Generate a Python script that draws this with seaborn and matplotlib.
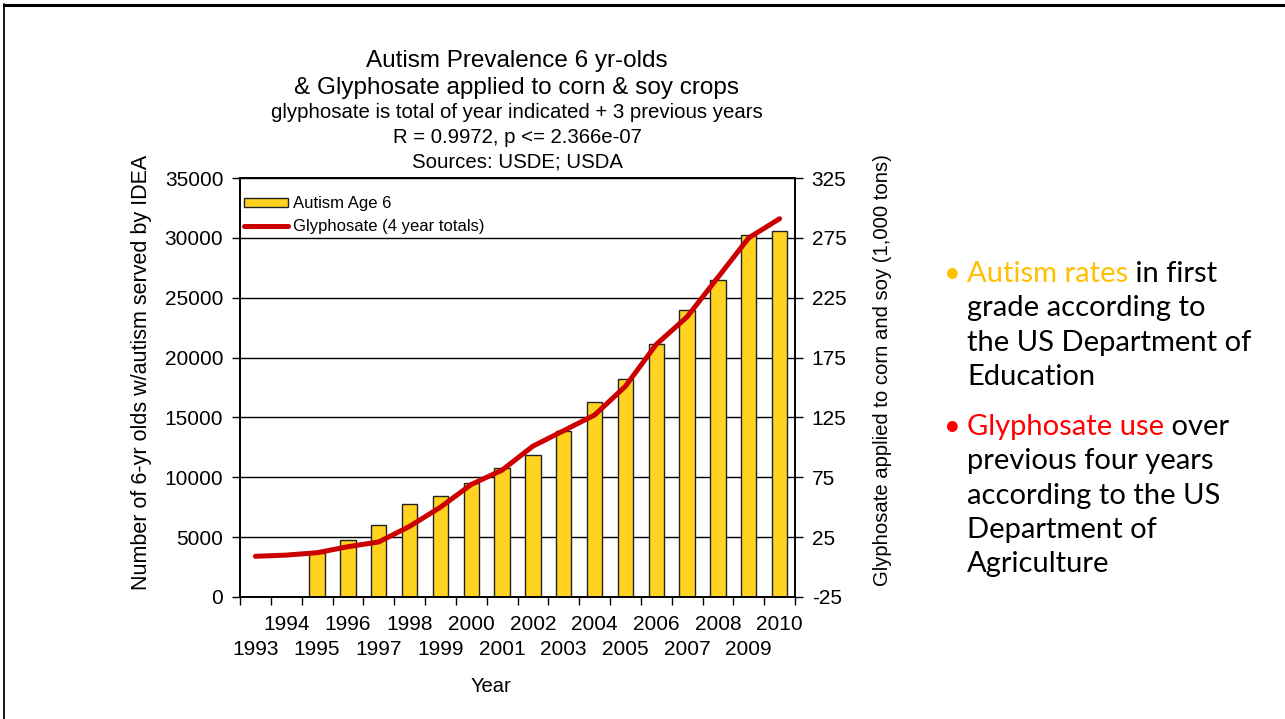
import numpy as np
import pandas as pd
import matplotlib
matplotlib.use("Agg")
import matplotlib.pyplot as plt
import seaborn as sns
from matplotlib.lines import Line2D
from matplotlib.patches import Patch

years = list(range(1993, 2011))
autism = [0, 0, 3650, 4750, 6000, 7750, 8400, 9500, 10800, 11900,
          13900, 16300, 18200, 21100, 24000, 26500, 30200, 30600]
glyphosate = [9, 10, 12, 17, 21, 34, 50, 69, 81, 101,
              114, 127, 151, 186, 209, 242, 275, 291]
left_ticks = list(range(0, 35001, 5000))
right_ticks = list(range(-25, 326, 50))

title_main = ["Autism Prevalence 6 yr-olds", "& Glyphosate applied to corn & soy crops"]
title_sub = ["glyphosate is total of year indicated + 3 previous years",
             "R = 0.9972, p <= 2.366e-07",
             "Sources: USDE; USDA"]

sns.set_theme(style="white")
plt.rcParams['font.family'] = ['Liberation Sans', 'DejaVu Sans']
plt.rcParams['text.color'] = 'black'
plt.rcParams['axes.unicode_minus'] = False

W, H = 1285, 719
fig = plt.figure(figsize=(W / 100, H / 100), dpi=100)
ax = fig.add_axes([240 / W, 1 - 597 / H, 555 / W, 419 / H])

df = pd.DataFrame({"year": [str(y) for y in years], "autism": autism, "glyph": glyphosate})

sns.barplot(data=df, x="year", y="autism", ax=ax, color="#FFD320", width=0.5,
            edgecolor="#222222", linewidth=1, saturation=1)
ax.set_axisbelow(True)
ax.yaxis.grid(True, color="black", lw=1)
ax.set_ylim(0, 35000)
ax.set_yticks(left_ticks)
ax.set_xlim(-0.5, len(years) - 0.5)
ax.set_xlabel("")
ax.set_ylabel("")
for s in ax.spines.values():
    s.set_color("black")
    s.set_linewidth(1.2)

pos = np.arange(len(years))
# ticks at category boundaries, even-year labels on the first row
ax.set_xticks(np.arange(-0.5, len(years), 1.0))
ax.set_xticklabels([])
ax.set_xticks(pos[::2] + 1, minor=True)
ax.set_xticklabels([str(y) for y in years[1::2]], minor=True)
ax.tick_params(axis="x", which="major", direction="out", length=6, width=1, color="black", bottom=True)
ax.tick_params(axis="x", which="minor", length=0, pad=13, labelsize=15, labelcolor="black")
ax.tick_params(axis="y", direction="out", length=6, width=1, color="black", left=True,
               labelsize=15, labelcolor="black", pad=6)

# odd-year labels on a second row
sec = ax.secondary_xaxis("bottom")
sec.set_xticks(pos[::2], [str(y) for y in years[::2]])
sec.tick_params(axis="x", length=0, pad=31, labelsize=15, labelcolor="black")
for s in sec.spines.values():
    s.set_visible(False)

ax2 = ax.twinx()
sns.lineplot(x=pos, y=glyphosate, ax=ax2, color="#CC0000", lw=3.6)
ax2.set_ylim(-25, 325)
ax2.set_yticks(right_ticks)
ax2.tick_params(axis="y", direction="out", length=6, width=1, color="black", right=True,
                labelsize=15, labelcolor="black", pad=6)
ax2.grid(False)
for s in ax2.spines.values():
    s.set_color("black")
    s.set_linewidth(1.2)

handles = [Patch(facecolor="#FFD320", edgecolor="#222222", lw=1),
           Line2D([], [], color="#CC0000", lw=3.6)]
ax2.legend(handles, ["Autism Age 6", "Glyphosate (4 year totals)"], loc="upper left",
           bbox_to_anchor=(-0.01, 0.98), frameon=False, fontsize=12, handlelength=2.6,
           handleheight=0.5, handletextpad=0.3, labelspacing=0.45, borderaxespad=0.2)

# titles
for i, t in enumerate(title_main):
    fig.text(517 / W, 1 - (61 + 27 * i) / H, t, ha="center", va="center", fontsize=17.5)
for i, t in enumerate(title_sub):
    fig.text(517 / W, 1 - (113 + 24.5 * i) / H, t, ha="center", va="center", fontsize=14.7)

fig.text(142 / W, 1 - 372 / H, "Number of 6-yr olds w/autism served by IDEA", rotation=90,
         ha="center", va="center", fontsize=15.5)
fig.text(882 / W, 1 - 370 / H, "Glyphosate applied to corn and soy (1,000 tons)", rotation=90,
         ha="center", va="center", fontsize=14.6)
fig.text(491 / W, 1 - 686 / H, "Year", ha="center", va="center", fontsize=14.5)

# slide frame
fig.add_artist(Line2D([4 / W, 1], [1 - 5.3 / H, 1 - 5.3 / H], color="black", lw=2.2,
                      transform=fig.transFigure))
fig.add_artist(Line2D([4 / W, 4 / W], [0, 1 - 4 / H], color="black", lw=1.3,
                      transform=fig.transFigure))

# bullet text
fs = 21
bullets = [
    ("#FFC000", "Autism rates", [" in first", "grade according to", "the US Department of", "Education"], 274),
    ("#FF0000", "Glyphosate use", [" over", "previous four years", "according to the US", "Department of", "Agriculture"], 427),
]
for color, colored, rest, y0 in bullets:
    fig.text(944 / W, 1 - y0 / H, "\u2022", color=color, fontsize=fs, family="Lato", va="center", ha="left")
    t1 = fig.text(967 / W, 1 - y0 / H, colored, color=color, fontsize=fs, family="Lato", va="center", ha="left")
    plt.annotate(rest[0], xy=(1, 0), xycoords=t1, va="bottom", ha="left", color="black",
                 fontsize=fs, family="Lato", annotation_clip=False)
    for k, line in enumerate(rest[1:]):
        fig.text(967 / W, 1 - (y0 + 34.3 * (k + 1)) / H, line, color="black", fontsize=fs,
                 family="Lato", va="center", ha="left")

fig.savefig("out.png", dpi=100)
